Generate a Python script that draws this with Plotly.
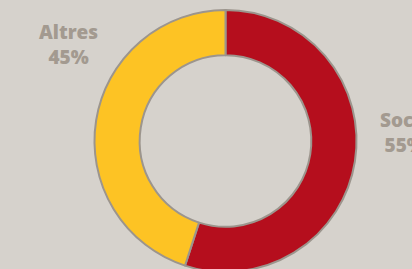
import plotly.graph_objects as go

labels = ["Socis", "Altres"]
values = [55, 45]
colors = ["#b50e1d", "#fdc324"]
label_text = ["Socis<br>55%", "Altres<br>45%"]

W, H = 412, 282
cx, cy, r = 225.5, 141, 131

fig = go.Figure(go.Pie(
    labels=labels,
    values=values,
    sort=False,
    direction="clockwise",
    rotation=0,
    hole=0.655,
    textinfo="none",
    hoverinfo="label+percent",
    marker=dict(colors=colors, line=dict(color="#9c958d", width=2)),
    domain=dict(x=[(cx - 150) / W, (cx + 150) / W], y=[(H - cy - r) / H, (H - cy + r) / H]),
    showlegend=False,
))

label_pos = [(404, 132.5), (68, 45)]
for txt, (px, py) in zip(label_text, label_pos):
    fig.add_annotation(
        x=px / W, y=(H - py) / H, xref="paper", yref="paper",
        text=txt, showarrow=False, align="center",
        font=dict(family="Open Sans", size=19, color="#a39a90", weight=800),
        xanchor="center", yanchor="middle",
    )

fig.update_layout(
    width=W, height=H,
    margin=dict(l=0, r=0, t=0, b=0),
    paper_bgcolor="#d6d2cc",
    plot_bgcolor="#d6d2cc",
)

fig.write_html(
    "out.html",
    config={"displayModeBar": False},
    post_script="document.body.style.margin='0';document.body.style.overflow='hidden';document.documentElement.style.overflow='hidden';",
)
